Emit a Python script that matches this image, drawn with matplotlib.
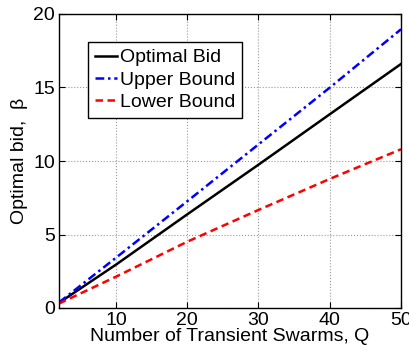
import matplotlib
matplotlib.use("Agg")
import matplotlib.pyplot as plt

Q = [2, 10, 20, 30, 40, 50]
optimal_bid = [0.35, 2.95, 6.37, 9.75, 13.18, 16.6]
upper_bound = [0.38, 3.42, 7.26, 11.13, 14.99, 18.96]
lower_bound = [0.3, 2.13, 4.51, 6.67, 8.78, 10.8]
xticks = [10, 20, 30, 40, 50]
yticks = [0, 5, 10, 15, 20]

plt.rcParams['font.family'] = ['Liberation Sans', 'DejaVu Sans']
fig = plt.figure(figsize=(4.10, 3.52), dpi=100)
ax = fig.add_axes([59/410, 1-308/352, 342/410, 294/352])

ax.plot(Q, optimal_bid, color='black', lw=1.8, label='Optimal Bid')
ax.plot(Q, upper_bound, color='blue', lw=1.8, dashes=(3.5, 1.5, 1, 1.5), label='Upper Bound')
ax.plot(Q, lower_bound, color='red', lw=1.8, dashes=(3, 1.8), label='Lower Bound')

ax.set_xlim(2, 50)
ax.set_ylim(0, 20)
ax.set_xticks(xticks)
ax.set_yticks(yticks)
ax.tick_params(direction='in', labelsize=14, length=4, top=True, right=True, pad=3)
ax.grid(True, ls=':', color='#999999', lw=0.8)
for s in ax.spines.values():
    s.set_linewidth(1.0)

ax.set_xlabel('Number of Transient Swarms, Q', fontsize=14, labelpad=-1)
ax.set_ylabel('Optimal bid,  β', fontsize=14, labelpad=4)

leg = ax.legend(loc='upper left', bbox_to_anchor=(0.085, 0.905), fontsize=14,
                fancybox=False, edgecolor='black', framealpha=1,
                handlelength=1.15, handletextpad=0.15, borderpad=0.35,
                labelspacing=0.25, borderaxespad=0)
leg.get_frame().set_linewidth(1.0)

fig.savefig('out.png', dpi=100)
